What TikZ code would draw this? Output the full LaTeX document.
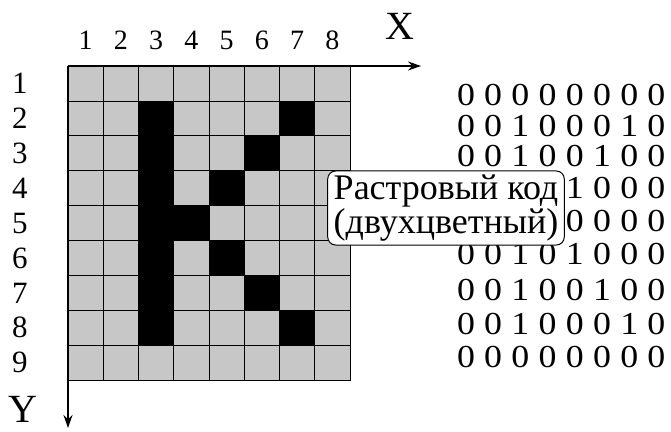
\documentclass[tikz,border=0pt]{standalone}
\usepackage{fontspec}
\setmainfont{Liberation Serif}
\newfontfamily\bitfont[FakeStretch=1.12]{Liberation Serif}
\usetikzlibrary{arrows.meta}

\begin{document}
\begin{tikzpicture}[x=1pt,y=-1pt,
  cell/.style={draw=black,line width=0.8pt,fill=black!22},
  ink/.style={draw=black,line width=0.8pt,fill=black},
  axis/.style={line width=1.8pt,-{Stealth[length=13pt,width=9pt]}},
  num/.style={font=\fontsize{28}{28}\selectfont,inner sep=0pt},
  rnum/.style={font=\fontsize{31}{31}\selectfont,inner sep=0pt},
  bit/.style={font=\bitfont\fontsize{32}{32}\selectfont,inner sep=0pt},
  big/.style={font=\fontsize{40}{40}\selectfont,inner sep=0pt},
  note/.style={draw=black,line width=1pt,rounded corners=8pt,fill=white,
               align=center,font=\fontsize{36}{32}\selectfont,
               inner xsep=6pt,inner ysep=4pt},
]
\useasboundingbox (0,0) rectangle (671,431);
\def\cw{35.25}
\def\ch{34.9}
\foreach \c in {1,...,8}
  \foreach \r in {1,...,9}
    \path[cell] ({68+(\c-1)*\cw},{66+(\r-1)*\ch}) rectangle ++(\cw,\ch);
\foreach \c/\r in {3/2,3/3,3/4,3/5,3/6,3/7,3/8,7/2,6/3,5/4,4/5,5/6,6/7,7/8}
  \path[ink] ({68+(\c-1)*\cw},{66+(\r-1)*\ch}) rectangle ++(\cw,\ch);
\coordinate (O) at (68,66);
\coordinate (xend) at (421,66);
\coordinate (yend) at (68,428);
\draw[axis] (O) -- (xend);
\draw[axis] (O) -- (yend);
\foreach \c in {1,...,8}
  \node[num] (col\c) at ({68+(\c-0.5)*\cw},40) {\c};
\foreach \r in {1,...,9}
  \node[rnum] (row\r) at (20,{66+(\r-0.5)*\ch}) {\r};
\node[big] (xlbl) at (400,26) {X};
\node[big] (ylbl) at (23,409) {Y};
\foreach \bits [count=\r] in {{0,0,0,0,0,0,0,0},{0,0,1,0,0,0,1,0},
    {0,0,1,0,0,1,0,0},{0,0,1,0,1,0,0,0},{0,0,1,1,0,0,0,0},
    {0,0,1,0,1,0,0,0},{0,0,1,0,0,1,0,0},{0,0,1,0,0,0,1,0},
    {0,0,0,0,0,0,0,0}}{
  \pgfmathsetmacro{\ypos}{{95,126,156,188,221,254,290,324,357}[\r-1]}
  \foreach \b [count=\c] in \bits{
    \pgfmathtruncatemacro{\hide}{and(or(\r==4,\r==5),\c<5)}
    \ifnum\hide=0
      \node[bit] (b\r-\c) at ({466+(\c-1)*27.2},\ypos) {\b};
    \fi
  }
}
\node[note] (code) at (446,208) {Растровый код\\(двухцветный)};
\end{tikzpicture}
\end{document}
